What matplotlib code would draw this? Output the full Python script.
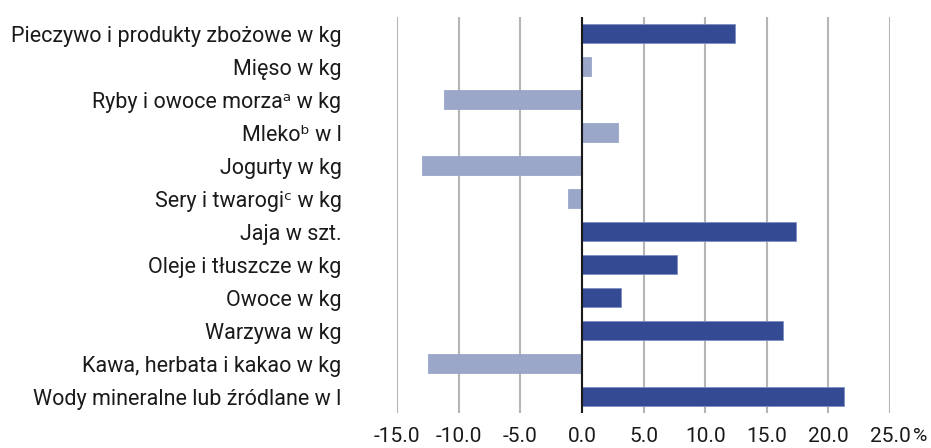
import matplotlib
matplotlib.use("Agg")
import matplotlib.pyplot as plt

categories = [
    "Pieczywo i produkty zbożowe w kg",
    "Mięso w kg",
    "Ryby i owoce morzaᵃ w kg",
    "Mlekoᵇ w l",
    "Jogurty w kg",
    "Sery i twarogiᶜ w kg",
    "Jaja w szt.",
    "Oleje i tłuszcze w kg",
    "Owoce w kg",
    "Warzywa w kg",
    "Kawa, herbata i kakao w kg",
    "Wody mineralne lub źródlane w l",
]
values = [12.4, 0.7, -11.2, 2.9, -13.0, -1.1, 17.4, 7.7, 3.2, 16.3, -12.5, 21.3]
highlight = [True, False, False, False, False, False, True, True, True, True, False, True]
xticks = [-15, -10, -5, 0, 5, 10, 15, 20, 25]

DARK = "#344b93"
LIGHT = "#9aa7c9"

plt.rcParams["font.family"] = ["Roboto", "DejaVu Sans"]

fig = plt.figure(figsize=(9.31, 4.48), dpi=100)
ax = fig.add_axes([0.4264, 0.078, 0.5296, 0.884])

ypos = list(range(len(categories)))
colors = [DARK if h else LIGHT for h in highlight]
edges = ["#7f8fc4" if h else LIGHT for h in highlight]
ax.barh(ypos, values, height=0.575, color=colors, edgecolor=edges,
        linewidth=0.6, zorder=3)

ax.set_xlim(-15, 25)
ax.set_ylim(len(categories) - 0.5, -0.5)
ax.set_xticks(xticks)
ax.set_xticklabels([f"{t:.1f}" for t in xticks], fontsize=15, color="#1a1a1a")
ax.set_yticks(ypos)
ax.set_yticklabels(categories, fontsize=15.5, color="#1a1a1a")
ax.tick_params(axis="y", length=0, pad=40)
ax.tick_params(axis="x", length=0, pad=10)

ax.grid(axis="x", color="#b5b5b5", lw=1.5, zorder=0)
ax.axvline(0, color="#1a1a1a", lw=1.5, zorder=4)
for s in ax.spines.values():
    s.set_visible(False)

# unit sign right after the last tick label
ax.annotate("%", xy=(25, 0), xycoords=("data", "axes fraction"),
            xytext=(23, -14), textcoords="offset pixels",
            fontsize=14, color="#1a1a1a", ha="left", va="top")

fig.savefig("out.png", dpi=100)
